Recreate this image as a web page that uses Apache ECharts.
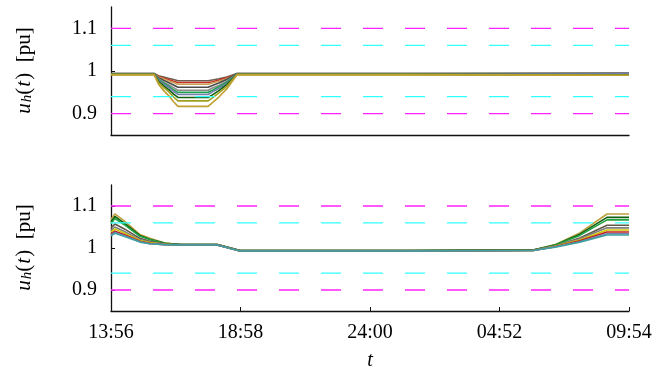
<!DOCTYPE html>
<html>
<head>
<meta charset="utf-8">
<script src="https://cdn.jsdelivr.net/npm/echarts@6.0.0/dist/echarts.min.js"></script>
<style>
  html, body { margin: 0; padding: 0; background: #fff; }
  #chart { width: 668px; height: 372px; }
</style>
</head>
<body>
<div id="chart"></div>
<script>
// x positions are in axis units 0..1200 (the 5 tick labels sit every 300)
const xTickLabels = ['13:56', '18:58', '24:00', '04:52', '09:54'];
const yTickValues = [0.9, 1, 1.1];
const outerLimits = [0.9, 1.1];
const innerLimits = [0.94, 1.06];

// top panel: voltage dip in the afternoon
const topX = [0, 100, 110, 122, 133, 145, 155, 225, 235, 250, 268, 292, 700, 1200];
const topValues = [
  [0.994, 0.994, 0.989, 0.986, 0.983, 0.980, 0.977, 0.977, 0.979, 0.982, 0.986, 0.994, 0.994, 0.995],
  [0.993, 0.993, 0.987, 0.983, 0.980, 0.976, 0.973, 0.973, 0.975, 0.979, 0.984, 0.993, 0.993, 0.993],
  [0.993, 0.993, 0.986, 0.981, 0.977, 0.973, 0.969, 0.969, 0.972, 0.976, 0.982, 0.993, 0.992, 0.992],
  [0.994, 0.994, 0.984, 0.978, 0.973, 0.967, 0.962, 0.962, 0.966, 0.972, 0.980, 0.994, 0.994, 0.994],
  [0.993, 0.993, 0.982, 0.974, 0.968, 0.961, 0.955, 0.955, 0.960, 0.966, 0.976, 0.993, 0.993, 0.992],
  [0.993, 0.993, 0.980, 0.972, 0.965, 0.956, 0.950, 0.950, 0.955, 0.963, 0.974, 0.993, 0.993, 0.993],
  [0.993, 0.993, 0.979, 0.969, 0.962, 0.952, 0.945, 0.945, 0.951, 0.959, 0.971, 0.993, 0.993, 0.994],
  [0.992, 0.992, 0.976, 0.965, 0.957, 0.946, 0.938, 0.938, 0.944, 0.954, 0.968, 0.992, 0.992, 0.991],
  [0.992, 0.992, 0.973, 0.961, 0.952, 0.939, 0.930, 0.930, 0.937, 0.949, 0.964, 0.992, 0.992, 0.990],
  [0.991, 0.991, 0.969, 0.954, 0.943, 0.928, 0.917, 0.917, 0.926, 0.939, 0.958, 0.991, 0.991, 0.990]
];
const topColors = ['#6e604e', '#c83030', '#c8a050', '#4a4a4a', '#8c8c8c', '#20a050', '#7080b0', '#106010', '#a0a020', '#c0a030'];

// bottom panel: overvoltage at the ends of the day
const bottomX = [0, 9, 30, 67, 90, 125, 160, 246, 299, 700, 978, 1029, 1086, 1149, 1200];
const bottomValues = [
  [1.068, 1.081, 1.065, 1.032, 1.023, 1.012, 1.008, 1.008, 0.994, 0.994, 0.995, 1.008, 1.036, 1.081, 1.081],
  [1.062, 1.075, 1.060, 1.030, 1.021, 1.011, 1.008, 1.008, 0.994, 0.994, 0.995, 1.007, 1.033, 1.073, 1.073],
  [1.058, 1.070, 1.056, 1.028, 1.020, 1.011, 1.008, 1.008, 0.994, 0.994, 0.995, 1.007, 1.030, 1.067, 1.067],
  [1.048, 1.057, 1.046, 1.023, 1.016, 1.010, 1.008, 1.008, 0.994, 0.994, 0.995, 1.005, 1.024, 1.054, 1.054],
  [1.042, 1.050, 1.040, 1.020, 1.014, 1.009, 1.007, 1.007, 0.993, 0.993, 0.994, 1.004, 1.022, 1.048, 1.048],
  [1.038, 1.045, 1.036, 1.018, 1.013, 1.009, 1.007, 1.007, 0.993, 0.993, 0.994, 1.004, 1.019, 1.043, 1.043],
  [1.033, 1.040, 1.032, 1.016, 1.011, 1.008, 1.007, 1.007, 0.993, 0.993, 0.994, 1.003, 1.017, 1.038, 1.038],
  [1.031, 1.037, 1.030, 1.015, 1.010, 1.008, 1.007, 1.007, 0.993, 0.993, 0.994, 1.003, 1.015, 1.034, 1.034],
  [1.029, 1.035, 1.028, 1.014, 1.010, 1.008, 1.007, 1.007, 0.993, 0.993, 0.994, 1.002, 1.014, 1.031, 1.031]
];
const bottomColors = ['#c0a040', '#106010', '#20a040', '#605848', '#808080', '#d0c800', '#c02020', '#7080b0', '#40a0a0'];

const FONT = 'Liberation Serif';

function yAxisFor(gridIndex) {
  return {
    gridIndex,
    type: 'value',
    min: 0.85,
    max: 1.15,
    name: '{i|u}{s|h}({i|t})  [pu]',
    nameLocation: 'middle',
    nameGap: 76,
    nameTextStyle: {
      fontFamily: FONT,
      fontSize: 21,
      color: '#000',
      rich: {
        i: { fontFamily: FONT, fontSize: 21, fontStyle: 'italic', color: '#000', padding: [0, 1, 0, 1] },
        s: { fontFamily: FONT, fontSize: 15, fontStyle: 'italic', color: '#000', verticalAlign: 'bottom' }
      }
    },
    axisLine: { show: true, lineStyle: { color: '#111', width: 1.3 } },
    axisTick: { show: true, inside: true, length: 4, customValues: yTickValues, lineStyle: { color: '#111' } },
    axisLabel: { customValues: yTickValues, fontFamily: FONT, fontSize: 20, color: '#000', margin: 14 },
    splitLine: { show: false }
  };
}

function lineSeries(xs, ys, color, axisIndex) {
  return {
    type: 'line',
    xAxisIndex: axisIndex,
    yAxisIndex: axisIndex,
    data: xs.map((x, i) => [x, ys[i]]),
    showSymbol: false,
    symbol: 'none',
    lineStyle: { color, width: 1.6 },
    z: 2
  };
}

function limitSeries(value, color, width, axisIndex) {
  return {
    type: 'line',
    xAxisIndex: axisIndex,
    yAxisIndex: axisIndex,
    data: [[0, value], [1200, value]],
    symbol: 'none',
    lineStyle: { color, width, type: [20, 22] },
    z: 3
  };
}

const chart = echarts.init(document.getElementById('chart'));

const series = [];
topValues.forEach((ys, k) => series.push(lineSeries(topX, ys, topColors[k], 0)));
bottomValues.forEach((ys, k) => series.push(lineSeries(bottomX, ys, bottomColors[k], 1)));
[0, 1].forEach((idx) => {
  outerLimits.forEach((v) => series.push(limitSeries(v, '#ff22ff', 1.4, idx)));
  innerLimits.forEach((v) => series.push(limitSeries(v, '#33ffff', 1.2, idx)));
});

chart.setOption({
  animation: false,
  backgroundColor: '#fff',
  grid: [
    { left: 111, top: 7, width: 518, height: 128 },
    { left: 111, top: 185, width: 518, height: 128 }
  ],
  xAxis: [
    {
      gridIndex: 0,
      type: 'value',
      min: 0,
      max: 1200,
      interval: 300,
      axisLine: { show: true, lineStyle: { color: '#111', width: 1.3 } },
      axisTick: { show: false },
      axisLabel: { show: false },
      splitLine: { show: false }
    },
    {
      gridIndex: 1,
      type: 'value',
      min: 0,
      max: 1200,
      interval: 300,
      name: 't',
      nameLocation: 'middle',
      nameGap: 40,
      nameTextStyle: { fontFamily: FONT, fontSize: 20, fontStyle: 'italic', color: '#000' },
      axisLine: { show: true, lineStyle: { color: '#111', width: 1.3 } },
      axisTick: { show: true, inside: true, length: 4, lineStyle: { color: '#111' } },
      axisLabel: {
        fontFamily: FONT,
        fontSize: 20,
        color: '#000',
        margin: 12,
        showMinLabel: true,
        showMaxLabel: true,
        formatter: (v) => xTickLabels[Math.round(v / 300)]
      },
      splitLine: { show: false }
    }
  ],
  yAxis: [yAxisFor(0), yAxisFor(1)],
  series
});

window.addEventListener('resize', () => chart.resize());
</script>
</body>
</html>
